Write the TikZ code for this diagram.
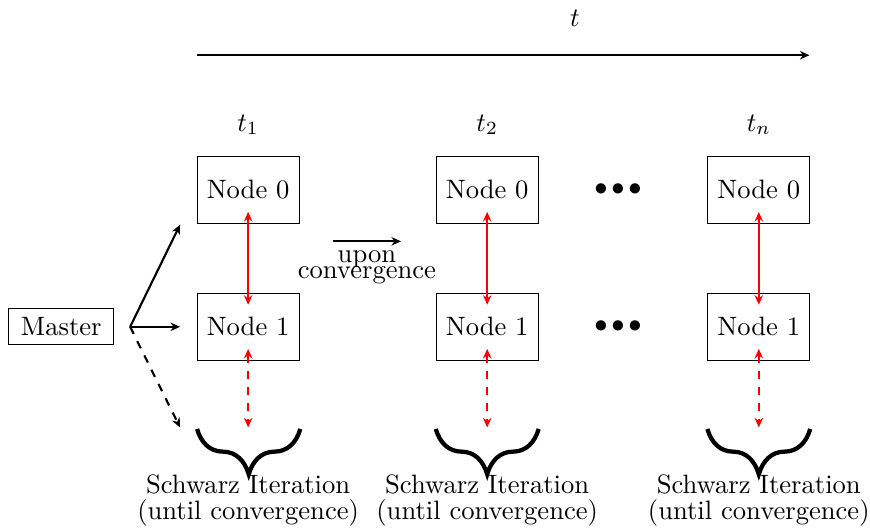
\documentclass[tikz,border=0pt]{standalone}
\usetikzlibrary{decorations.pathreplacing, arrows.meta}
\usepackage{amsmath, amsfonts, amssymb}
\begin{document}
\begin{tikzpicture}[>={Stealth[length=3.6pt, width=3.2pt, inset=1.2pt]},
  box/.style={draw, minimum width=1.35cm, minimum height=0.89cm},
  sync/.style={thick, <->, red, shorten <=-0.16cm, shorten >=-0.16cm},
  bracedown/.style={decorate, decoration={brace, mirror, amplitude=0.6cm}, ultra thick}]
\useasboundingbox (-1.72,-2.70) rectangle (9.78,4.32);
% time axis
\draw[thick, ->] (0.885,3.59) -- (8.98,3.59);
\node (tlab) at (5.88,4.08) {$t$};
\node (t1) at (1.56,2.67) {$t_1$};
\node (t2) at (4.72,2.67) {$t_2$};
\node (tn) at (8.31,2.67) {$t_n$};
% nodes per time step
\node[box] (a0) at (1.56,1.81) {Node 0};
\node[box] (a1) at (1.56,0) {Node 1};
\node[box] (b0) at (4.72,1.81) {Node 0};
\node[box] (b1) at (4.72,0) {Node 1};
\node[box] (c0) at (8.31,1.81) {Node 0};
\node[box] (c1) at (8.31,0) {Node 1};
\node (dots0) at (6.45,1.81) {${\bullet}\mkern2.5mu{\bullet}\mkern2.5mu{\bullet}$};
\node (dots1) at (6.45,0) {${\bullet}\mkern2.5mu{\bullet}\mkern2.5mu{\bullet}$};
% master
\node[draw, inner xsep=4.5pt] (master) at (-0.91,0) {Master};
\coordinate (fork) at (0,0);
\coordinate (m0) at (0.66,1.35);
\coordinate (m1) at (0.66,0);
\coordinate (m2) at (0.66,-1.33);
\draw[thick, ->] (fork) -- (m0);
\draw[thick, ->] (fork) -- (m1);
\draw[thick, dashed, ->] (fork) -- (m2);
% communication between the nodes
\draw[sync] (a0) -- (a1);
\draw[sync] (b0) -- (b1);
\draw[sync] (c0) -- (c1);
\coordinate (ia) at (1.56,-1.33);
\coordinate (ib) at (4.72,-1.33);
\coordinate (ic) at (8.31,-1.33);
\draw[sync, dashed, shorten >=0pt] (a1) -- (ia);
\draw[sync, dashed, shorten >=0pt] (b1) -- (ib);
\draw[sync, dashed, shorten >=0pt] (c1) -- (ic);
% schwarz iterations
\draw[bracedown] (0.885,-1.35) -- (2.25,-1.35);
\draw[bracedown] (4.04,-1.35) -- (5.40,-1.35);
\draw[bracedown] (7.63,-1.35) -- (8.99,-1.35);
\node[align=center] (sa) at (1.56,-2.29) {Schwarz Iteration\\[-2.2pt](until convergence)};
\node[align=center] (sb) at (4.72,-2.29) {Schwarz Iteration\\[-2.2pt](until convergence)};
\node[align=center] (sc) at (8.31,-2.29) {Schwarz Iteration\\[-2.2pt](until convergence)};
% next time step
\coordinate (u0) at (2.68,1.13);
\coordinate (u1) at (3.58,1.13);
\draw[thick, ->] (u0) -- (u1);
\node[align=center] (upon) at (3.13,0.79) {upon\\[-6pt]convergence};
\end{tikzpicture}
\end{document}
